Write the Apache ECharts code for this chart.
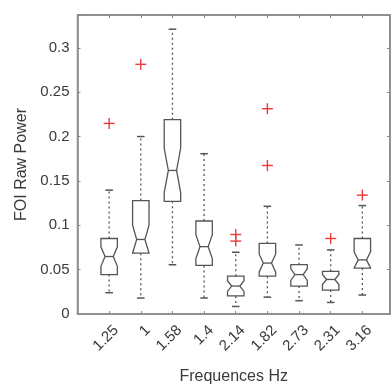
<!DOCTYPE html>
<html>
<head>
<meta charset="utf-8">
<script src="https://cdn.jsdelivr.net/npm/echarts@6/dist/echarts.min.js"></script>
<style>html,body{margin:0;padding:0;background:#fff}#c{width:392px;height:390px}</style>
</head>
<body>
<div id="c"></div>
<script>
const categories = ['1.25', '1', '1.58', '1.4', '2.14', '1.82', '2.73', '2.31', '3.16'];
const lowerWhisker = [0.024, 0.018, 0.0555, 0.018, 0.0085, 0.019, 0.015, 0.013, 0.0214];
const q1 = [0.0444, 0.0685, 0.127, 0.0548, 0.0204, 0.0426, 0.0315, 0.027, 0.0518];
const median = [0.0648, 0.084, 0.1618, 0.0759, 0.0315, 0.0574, 0.0444, 0.0389, 0.061];
const q3 = [0.0851, 0.1278, 0.219, 0.1048, 0.0426, 0.0796, 0.0556, 0.0481, 0.0851];
const upperWhisker = [0.1396, 0.2, 0.321, 0.1807, 0.0696, 0.1214, 0.0778, 0.0722, 0.1222];
const notchHalf = [0.011, 0.016, 0.025, 0.0135, 0.006, 0.010, 0.0065, 0.0057, 0.009];
const outlierCat = [1, 2, 5, 5, 6, 6, 8, 9];
const outlierVal = [0.2148, 0.2814, 0.0896, 0.0822, 0.1674, 0.2314, 0.0851, 0.134];
const yTicks = [0, 0.05, 0.1, 0.15, 0.2, 0.25, 0.3];

const FONT = '"Liberation Sans", Arial, Helvetica, sans-serif';
const TXT = '#3a3a3a';
const AX = '#8a8a8a';
const BOX = '#555';

const boxData = categories.map((c, i) => [i + 1, lowerWhisker[i], q1[i], median[i], q3[i], upperWhisker[i], notchHalf[i]]);
const outData = outlierCat.map((c, i) => [c, outlierVal[i]]);

const chart = echarts.init(document.getElementById('c'), null, {renderer: 'canvas'});

function renderBox(params, api) {
  const x = api.value(0);
  const lw = api.value(1), a = api.value(2), m = api.value(3), b = api.value(4), uw = api.value(5), n = api.value(6);
  const hw = 0.26, cw = 0.12;
  const nlo = Math.max(m - n, a), nhi = Math.min(m + n, b);
  const P = (xx, yy) => api.coord([xx, yy]);
  const pts = [
    P(x - hw, a), P(x - hw, nlo), P(x - hw / 2, m), P(x - hw, nhi), P(x - hw, b),
    P(x + hw, b), P(x + hw, nhi), P(x + hw / 2, m), P(x + hw, nlo), P(x + hw, a)
  ];
  const st = {stroke: BOX, lineWidth: 1.3, fill: null};
  const wst = {stroke: BOX, lineWidth: 1.3, lineDash: [2, 3]};
  const children = [
    {type: 'polygon', shape: {points: pts}, style: st},
    {type: 'line', shape: {x1: P(x - hw / 2, m)[0], y1: P(x, m)[1], x2: P(x + hw / 2, m)[0], y2: P(x, m)[1]}, style: {stroke: BOX, lineWidth: 1.3}},
    {type: 'line', shape: {x1: P(x, b)[0], y1: P(x, b)[1], x2: P(x, uw)[0], y2: P(x, uw)[1]}, style: wst},
    {type: 'line', shape: {x1: P(x, a)[0], y1: P(x, a)[1], x2: P(x, lw)[0], y2: P(x, lw)[1]}, style: wst},
    {type: 'line', shape: {x1: P(x - cw, uw)[0], y1: P(x, uw)[1], x2: P(x + cw, uw)[0], y2: P(x, uw)[1]}, style: {stroke: BOX, lineWidth: 1.5}},
    {type: 'line', shape: {x1: P(x - cw, lw)[0], y1: P(x, lw)[1], x2: P(x + cw, lw)[0], y2: P(x, lw)[1]}, style: {stroke: BOX, lineWidth: 1.5}}
  ];
  return {type: 'group', children};
}

function renderPlus(params, api) {
  const p = api.coord([api.value(0), api.value(1)]);
  const s = 5.5;
  const st = {stroke: '#ee3b3b', lineWidth: 1.4};
  return {type: 'group', children: [
    {type: 'line', shape: {x1: p[0] - s, y1: p[1], x2: p[0] + s, y2: p[1]}, style: st},
    {type: 'line', shape: {x1: p[0], y1: p[1] - s, x2: p[0], y2: p[1] + s}, style: st}
  ]};
}

const isTick = v => yTicks.some(t => Math.abs(t - v) < 1e-9);

const frameAxis = {
  axisLine: {show: true, onZero: false, lineStyle: {color: AX, width: 1.5}},
  axisTick: {show: true, inside: true, length: 3, lineStyle: {color: AX}},
  splitLine: {show: false}
};

chart.setOption({
  animation: false,
  backgroundColor: '#fff',
  grid: {left: 77.5, right: 2, top: 15, bottom: 72, show: true, borderColor: AX, borderWidth: 1.5, backgroundColor: 'transparent'},
  xAxis: [Object.assign({
    type: 'value', min: 0, max: 9.87, interval: 1, position: 'bottom',
    name: 'Frequences Hz', nameLocation: 'middle', nameGap: 55,
    nameTextStyle: {fontFamily: FONT, fontSize: 16, color: TXT},
    axisLabel: {
      rotate: 45, margin: 21, padding: [0, -10, 0, 0], fontFamily: FONT, fontSize: 15, color: TXT,
      formatter: v => (Number.isInteger(v) && v >= 1 && v <= categories.length) ? categories[v - 1] : ''
    }
  }, frameAxis), Object.assign({
    type: 'value', min: 0, max: 9.87, interval: 1, position: 'top',
    axisLabel: {show: false}
  }, frameAxis)],
  yAxis: [Object.assign({
    type: 'value', min: 0, max: 0.337, interval: 0.05, position: 'left',
    name: 'FOI Raw Power', nameLocation: 'middle', nameGap: 40, nameRotate: 90,
    nameTextStyle: {fontFamily: FONT, fontSize: 16, color: TXT},
    axisLabel: {
      margin: 8, fontFamily: FONT, fontSize: 15, color: TXT,
      formatter: v => isTick(v) ? String(Math.round(v * 100) / 100) : ''
    }
  }, frameAxis), Object.assign({
    type: 'value', min: 0, max: 0.337, interval: 0.05, position: 'right',
    axisLabel: {show: false}
  }, frameAxis)],
  series: [{
    type: 'custom', xAxisIndex: 0, yAxisIndex: 0,
    renderItem: renderBox, data: boxData, silent: true,
    encode: {x: 0, y: [1, 2, 3, 4, 5]}
  }, {
    type: 'custom', xAxisIndex: 0, yAxisIndex: 0,
    renderItem: renderPlus, data: outData, silent: true,
    encode: {x: 0, y: 1}
  }, {
    type: 'line', xAxisIndex: 1, yAxisIndex: 1, data: [], silent: true
  }]
});
</script>
</body>
</html>
